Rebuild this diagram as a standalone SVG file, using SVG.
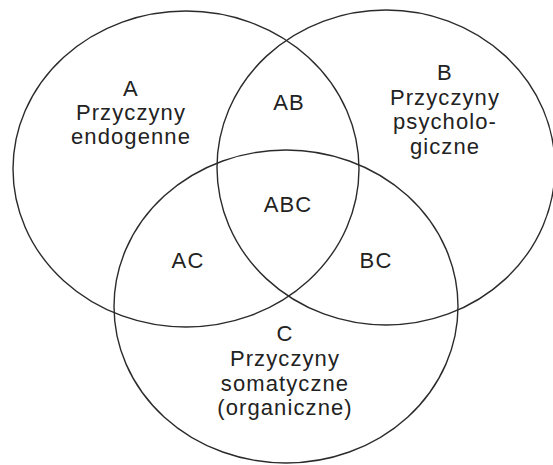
<svg xmlns="http://www.w3.org/2000/svg" width="553" height="465" viewBox="0 0 553 465">
<style>
.set{fill:none;stroke:#2b2b2b;stroke-width:1.4}
text{font-family:"Liberation Sans",Arial,sans-serif;font-size:22px;fill:#222;text-anchor:middle;letter-spacing:1.1px}
</style>
<rect width="553" height="465" fill="#fff"/>
<g id="setA">
<ellipse class="set" cx="186" cy="169" rx="173" ry="158"/>
<text x="131" y="96">A</text>
<text x="131" y="120">Przyczyny</text>
<text x="131" y="144">endogenne</text>
</g>
<g id="setB">
<ellipse class="set" cx="386" cy="167.5" rx="169" ry="157.5"/>
<text x="445" y="80">B</text>
<text x="445" y="105">Przyczyny</text>
<text x="445" y="129">psycholo-</text>
<text x="445" y="154">giczne</text>
</g>
<g id="setC">
<ellipse class="set" cx="286" cy="306.5" rx="172" ry="156.5"/>
<text x="285" y="341">C</text>
<text x="285" y="366">Przyczyny</text>
<text x="285" y="391">somatyczne</text>
<text x="285" y="415">(organiczne)</text>
</g>
<g id="AB"><text x="289" y="110">AB</text></g>
<g id="ABC"><text x="288" y="212">ABC</text></g>
<g id="AC"><text x="188" y="268">AC</text></g>
<g id="BC"><text x="376" y="268">BC</text></g>
<g id="connectors"></g>
</svg>
